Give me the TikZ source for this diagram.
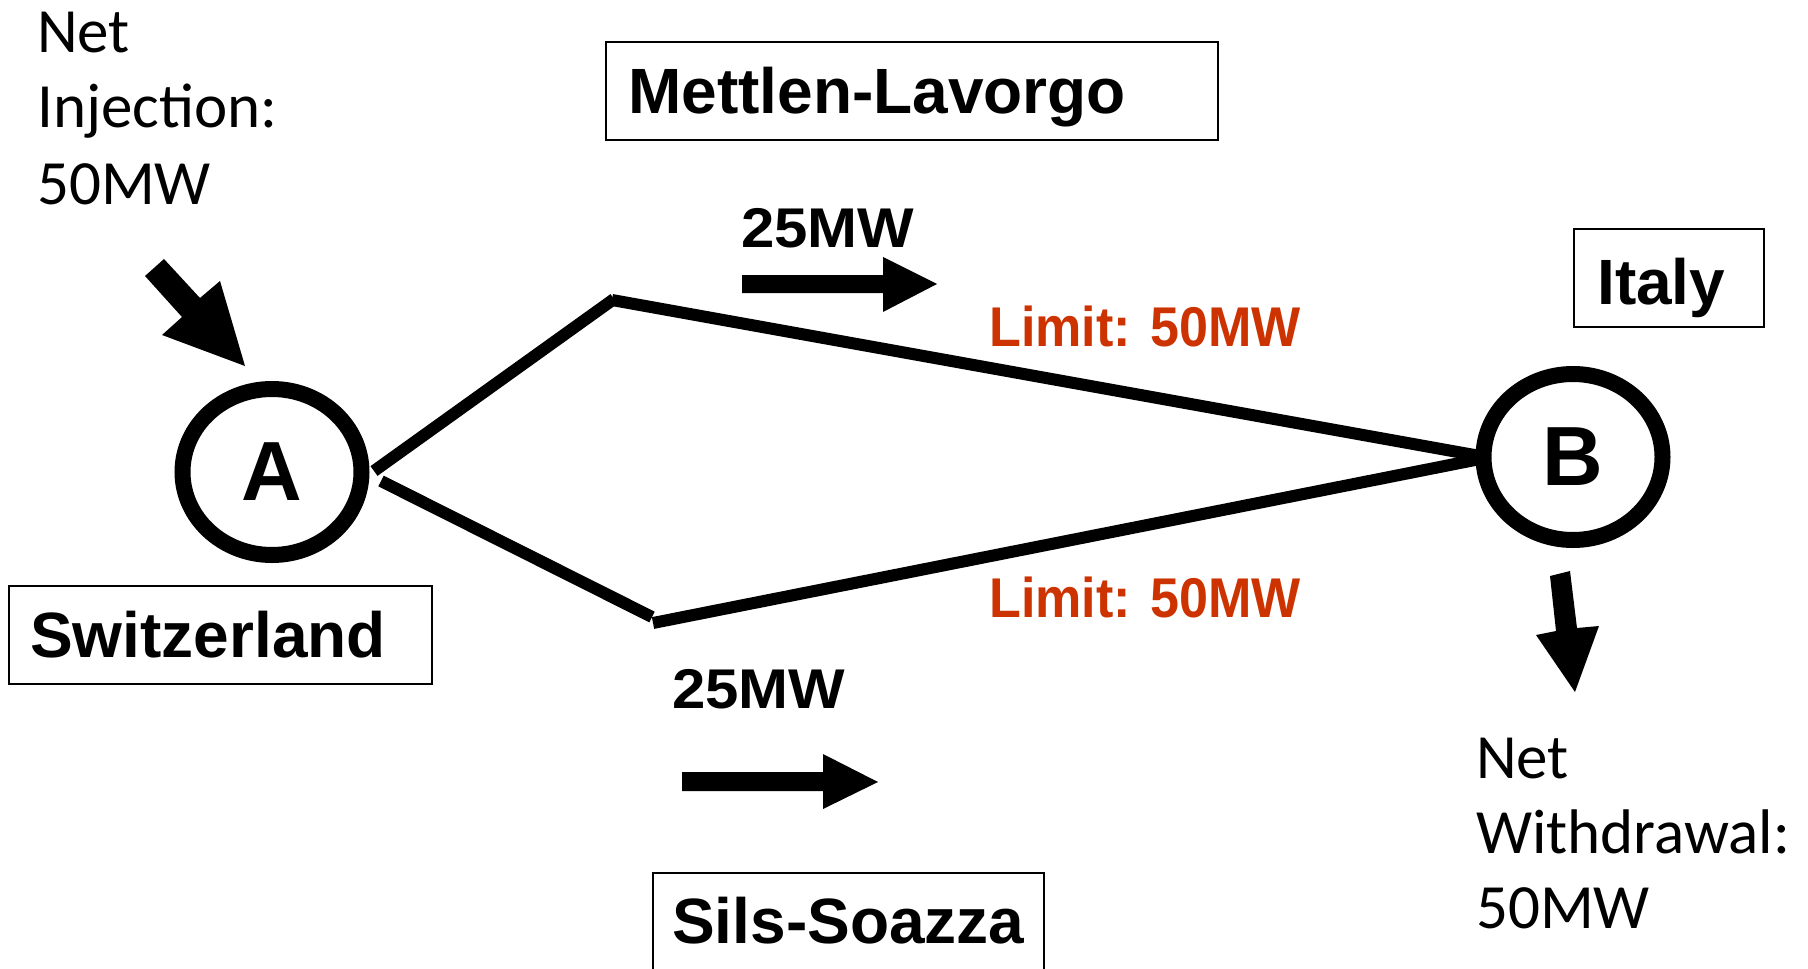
\documentclass[tikz,border=0pt]{standalone}
\usepackage{fontspec}
\usepackage{graphicx}
\setmainfont{Liberation Sans}
\newfontfamily\calfont{Carlito}
\usetikzlibrary{shapes.geometric}
\definecolor{limred}{RGB}{204,51,0}
\tikzset{
  bold64/.style={inner sep=0pt, anchor=base west, font=\fontsize{64}{64}\selectfont\bfseries},
  bold56/.style={inner sep=0pt, anchor=base west, font=\fontsize{56}{56}\selectfont\bfseries},
  limlab/.style={bold56, text=limred},
  plain62/.style={inner sep=0pt, anchor=base west, font=\calfont\fontsize{63}{63}\selectfont},
  busnode/.style={draw, ellipse, line width=16pt, minimum width=179pt, minimum height=166pt, inner sep=0pt, font=\fontsize{84}{84}\selectfont\bfseries},
  labbox/.style={draw, line width=2pt},
  lineseg/.style={line width=12pt, line cap=butt},
  bigarrow/.style={fill=black}
}
\begin{document}
\begin{tikzpicture}[x=1pt,y=-1pt]
\useasboundingbox (0,0) rectangle (1808,969);
% buses
\node[busnode] (A) at (272,472) {A};
\node[busnode] (B) at (1573,457) {B};
% line end coordinates
\coordinate (a1) at (374,471);
\coordinate (k1) at (614,299);
\coordinate (k1b) at (612,300);
\coordinate (b1) at (1480,456);
\coordinate (a2) at (381,481);
\coordinate (k2) at (652,617);
\coordinate (k2b) at (653,623);
\coordinate (b2) at (1480,459);
\draw[lineseg] (a1) -- (k1);
\draw[lineseg] (k1b) -- (b1);
\draw[lineseg] (a2) -- (k2);
\draw[lineseg] (k2b) -- (b2);
% boxes
\draw[labbox] (606,42) rectangle (1218,140);
\node[bold64] (ml) at (628,113) {Mettlen-Lavorgo};
\draw[labbox] (1574,229) rectangle (1764,327);
\node[bold64] (it) at (1597,304) {Italy};
\draw[labbox] (9,586) rectangle (432,684);
\node[bold64] (sw) at (30,657) {Switzerland};
\draw[labbox] (653,975) -- (653,873) -- (1044,873) -- (1044,975);
\node[bold64] (ss) at (672,943) {Sils-Soazza};
% flow labels
\node[bold56] (f1) at (741,247) {\scalebox{1.07}[1]{25MW}};
\node[bold56] (f2) at (672,708) {\scalebox{1.07}[1]{25MW}};
\node[limlab] (l1) at (989,346) {\scalebox{0.93}[1]{Limit: 50MW}};
\node[limlab] (l2) at (989,617) {\scalebox{0.93}[1]{Limit: 50MW}};
% flow arrows
\fill[bigarrow] (742,275) -- (883,275) -- (883,257) -- (937,284) -- (883,312) -- (883,293) -- (742,293) -- cycle;
\fill[bigarrow] (682,772) -- (823,772) -- (823,754) -- (878,782) -- (823,809) -- (823,791) -- (682,791) -- cycle;
% injection / withdrawal arrows
\fill[bigarrow] (145,276) -- (164,259) -- (200,298) -- (220,281) -- (245,366) -- (162,335) -- (182,317) -- cycle;
\fill[bigarrow] (1550,576) -- (1570,571) -- (1577,628) -- (1599,626) -- (1575,692) -- (1536,635) -- (1556,631) -- cycle;
% injection / withdrawal texts
\node[plain62] (i1) at (37,52) {Net};
\node[plain62] (i2) at (37,127) {Injection:};
\node[plain62] (i3) at (37,204) {50MW};
\node[plain62] (w1) at (1476,778) {Net};
\node[plain62] (w2) at (1476,853) {Withdrawal:};
\node[plain62] (w3) at (1476,928) {50MW};
\end{tikzpicture}
\end{document}
